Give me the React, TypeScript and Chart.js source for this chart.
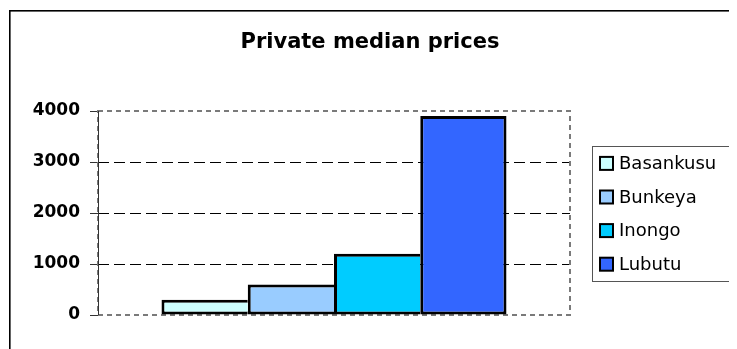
import React, { useEffect, useRef } from 'react';
import { Chart, registerables } from 'chart.js';

Chart.register(...registerables);

const TITLE = 'Private median prices';
const CATEGORIES = [''];
const SERIES = ['Basankusu', 'Bunkeya', 'Inongo', 'Lubutu'];
const VALUES = [300, 600, 1200, 3900];
const COLORS = ['#CCFFFF', '#99CCFF', '#00CCFF', '#3366FF'];
const Y_MIN = 0;
const Y_MAX = 4000;
const Y_STEP = 1000;

const W = 729;
const H = 341;

const decorPlugin = {
  id: 'decor',
  beforeDatasetsDraw(chart: any) {
    const { ctx, chartArea } = chart;
    const y = chart.scales.y;
    const { left, right, top, bottom } = chartArea;
    ctx.save();
    ctx.strokeStyle = '#000';
    ctx.lineWidth = 1;
    ctx.setLineDash([11, 5]);
    for (let v = Y_MIN + Y_STEP; v < Y_MAX; v += Y_STEP) {
      const py = Math.round(y.getPixelForValue(v)) + 0.5;
      ctx.beginPath();
      ctx.moveTo(left, py);
      ctx.lineTo(right, py);
      ctx.stroke();
    }
    ctx.strokeStyle = '#7a7a7a';
    ctx.lineWidth = 2;
    ctx.setLineDash([5, 4]);
    ctx.strokeRect(left, top, right - left, bottom - top);
    ctx.setLineDash([]);
    ctx.strokeStyle = '#333';
    ctx.lineWidth = 1;
    ctx.beginPath();
    ctx.moveTo(left + 0.5, top);
    ctx.lineTo(left + 0.5, bottom);
    ctx.stroke();
    ctx.restore();
  },
  afterDraw(chart: any) {
    const { ctx } = chart;
    ctx.save();
    ctx.fillStyle = '#000';
    ctx.fillRect(1, 2, 1.6, H);
    ctx.fillRect(1, 2, W, 1.6);
    ctx.font = 'bold 21px "DejaVu Sans"';
    ctx.textAlign = 'center';
    ctx.textBaseline = 'alphabetic';
    ctx.fillText(TITLE, 362, 40);
    const lx = 584;
    const ly = 138;
    ctx.strokeStyle = '#555';
    ctx.lineWidth = 1;
    ctx.strokeRect(lx + 0.5, ly + 0.5, 200, 135);
    ctx.font = '18px "DejaVu Sans"';
    ctx.textAlign = 'left';
    ctx.textBaseline = 'middle';
    chart.data.datasets.forEach((ds: any, i: number) => {
      const cy = 155.4 + i * 33.6;
      ctx.fillStyle = ds.backgroundColor;
      ctx.fillRect(592, cy - 6.5, 13, 13);
      ctx.strokeStyle = '#000';
      ctx.lineWidth = 2;
      ctx.strokeRect(592, cy - 6.5, 13, 13);
      ctx.fillStyle = '#000';
      ctx.fillText(ds.label, 611, cy + 1);
    });
    ctx.restore();
  },
};

export default function App() {
  const ref = useRef<HTMLCanvasElement>(null);
  useEffect(() => {
    if (!ref.current) return;
    const last = SERIES.length - 1;
    const chart = new Chart(ref.current, {
      type: 'bar',
      data: {
        labels: CATEGORIES,
        datasets: SERIES.map((s, i) => ({
          label: s,
          data: [VALUES[i]],
          backgroundColor: COLORS[i],
          borderColor: '#000',
          borderWidth: { left: 3, top: 3, bottom: 3, right: i === last ? 3 : 0 },
          borderSkipped: false,
          categoryPercentage: 0.731,
          barPercentage: 1,
        })),
      },
      options: {
        animation: false,
        responsive: false,
        layout: { padding: { left: 10, right: 167, top: 103, bottom: 34 } },
        plugins: {
          legend: { display: false },
          title: { display: false },
          tooltip: { enabled: false },
        },
        scales: {
          x: { display: false },
          y: {
            min: Y_MIN,
            max: Y_MAX,
            ticks: {
              stepSize: Y_STEP,
              color: '#000',
              padding: 10,
              font: { family: '"DejaVu Sans"', size: 17, weight: 'bold' },
              callback: (v: any) => String(v),
            },
            grid: {
              display: true,
              drawOnChartArea: false,
              drawTicks: true,
              tickLength: 8,
              color: '#333',
              lineWidth: 1,
            },
            border: { display: false },
            afterFit: (scale: any) => {
              scale.width = 80;
            },
          },
        },
      },
      plugins: [decorPlugin],
    } as any);
    return () => chart.destroy();
  }, []);
  return (
    <div style={{ width: W, height: H }}>
      <canvas ref={ref} width={W} height={H} style={{ display: 'block' }} />
    </div>
  );
}
